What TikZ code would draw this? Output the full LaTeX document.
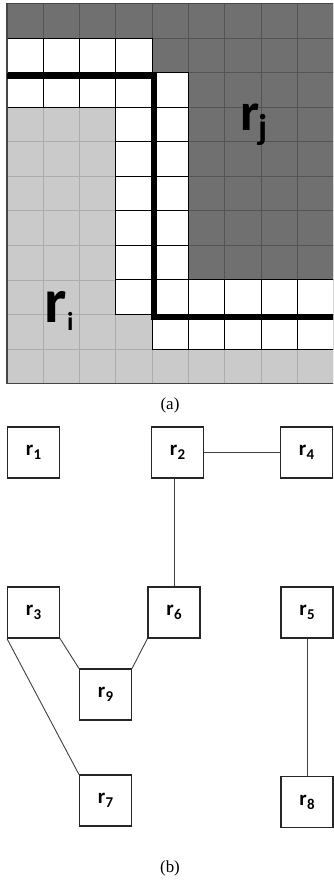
\documentclass[tikz,border=0pt]{standalone}
\usepackage{fontspec}
\setmainfont{Liberation Serif}
\newfontfamily\calib{Carlito}
\definecolor{darkcell}{RGB}{112,112,112}
\definecolor{darkline}{RGB}{84,84,84}
\definecolor{lightcell}{RGB}{202,202,202}
\definecolor{lightline}{RGB}{172,172,172}
\definecolor{frameline}{RGB}{70,70,70}
% region label: r with a lowered subscript
\newcommand\rl[1]{r\kern0.02em\raisebox{-0.2em}{\fontsize{15}{15}\selectfont #1}}
\begin{document}
\begin{tikzpicture}[x=1bp,y=-1bp,
  regbox/.style={draw=black!85, line width=1.1bp, fill=white,
    minimum width=52bp, minimum height=51bp, inner sep=0pt,
    font={\calib\bfseries\fontsize{21}{21}\selectfont}},
  link/.style={draw=black!75, line width=0.9bp},
  caption/.style={font={\fontsize{17}{17}\selectfont}, inner sep=0pt}]
\useasboundingbox (0,0) rectangle (333,884);

% ---------- pixel grid ----------
\def\gx{7}\def\gy{3.5}\def\cw{36.28}\def\ch{34.55}
\begin{scope}
\clip (0,0) rectangle (333,400);
% gray cells
\foreach \r in {0,...,10}{
  \foreach \c in {0,...,8}{
    \pgfmathtruncatemacro\dk{(\r==0)||(\r==1&&\c>3)||(\r>1&&\r<8&&\c>4)}
    \pgfmathsetmacro\xa{\gx+\c*\cw}\pgfmathsetmacro\ya{\gy+\r*\ch}
    \ifnum\dk=1
      \filldraw[fill=darkcell, draw=darkline, line width=0.8bp]
        (\xa,\ya) rectangle ++(\cw,\ch);
    \else
      \filldraw[fill=lightcell, draw=lightline, line width=0.8bp]
        (\xa,\ya) rectangle ++(\cw,\ch);
    \fi
  }}
% white cells, outlined in black
\foreach \r in {0,...,10}{
  \foreach \c in {0,...,8}{
    \pgfmathtruncatemacro\wh{(\r>0&&\r<3&&\c<4)||(\r==2&&\c==4)||(\r>2&&\r<9&&\c>2&&\c<5)||(\r==8&&\c>4)||(\r==9&&\c>3)}
    \pgfmathsetmacro\xa{\gx+\c*\cw}\pgfmathsetmacro\ya{\gy+\r*\ch}
    \ifnum\wh=1
      \filldraw[fill=white, draw=black, line width=0.9bp]
        (\xa,\ya) rectangle ++(\cw,\ch);
    \fi
  }}
% outer frame
\draw[frameline, line width=1.6bp] (\gx,\gy) rectangle (336,383.5);
% boundary between the two regions
\draw[black, line width=6bp] (7,76) -- (153.5,76) -- (153.5,316.5) -- (340,316.5);
\end{scope}

% region labels
\node[anchor=base west, inner sep=0pt, font={\calib\bfseries}] (rj) at (240,130)
  {\fontsize{54}{54}\selectfont r\kern-0.02em\raisebox{-9bp}{\fontsize{36}{36}\selectfont j}};
\node[anchor=base west, inner sep=0pt, font={\calib\bfseries}] (ri) at (44,322)
  {\fontsize{63}{63}\selectfont r\kern0.01em\raisebox{-8bp}{\fontsize{26}{26}\selectfont i}};

\node[caption] (capa) at (170,405) {(a)};

% ---------- adjacency graph ----------
\node[regbox] (r1) at (33.5,452.5) {\rl{1}};
\node[regbox] (r2) at (177.5,452.5) {\rl{2}};
\node[regbox] (r4) at (306.5,452.5) {\rl{4}};
\node[regbox] (r3) at (33.5,612.5) {\rl{3}};
\node[regbox] (r6) at (174,612.5) {\rl{6}};
\node[regbox] (r5) at (307,612.5) {\rl{5}};
\node[regbox] (r9) at (105.5,694.5) {\rl{9}};
\node[regbox] (r7) at (105.5,800.5) {\rl{7}};
\node[regbox] (r8) at (307,802) {\rl{8}};

\draw[link] (r2.east) -- (r4.west);
\draw[link] (r6.north) -- (r6.north |- r2.south);
\draw[link] (r3.south east) -- (r9.north west);
\draw[link] (r6.south west) -- (r9.north east);
\draw[link] (r3.south west) -- (r7.north west);
\draw[link] (r5.south) -- (r8.north);

\node[caption] (capb) at (170,868) {(b)};
\end{tikzpicture}
\end{document}
